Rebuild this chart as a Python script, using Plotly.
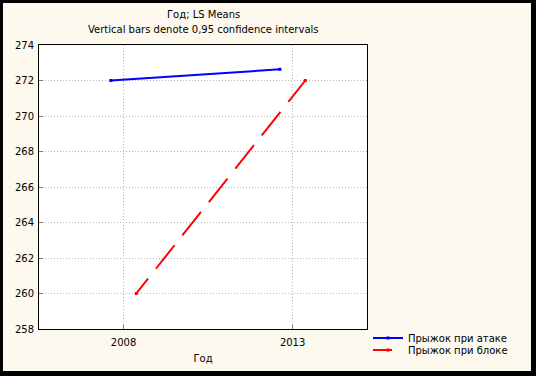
import plotly.graph_objects as go

# ---- data ----
years = ["2008", "2013"]
attack_jump = [272.0, 272.63]   # Прыжок при атаке
block_jump = [260.0, 272.0]     # Прыжок при блоке
series_names = ["Прыжок при атаке", "Прыжок при блоке"]
y_ticks = [258, 260, 262, 264, 266, 268, 270, 272, 274]

W, H = 536, 376
L, R, T, B = 39, 169, 45, 47
PW, PH = W - L - R, H - T - B
FONT = "DejaVu Sans"
BG = "#FDF9EE"

idx = list(range(len(years)))
off = 0.075

fig = go.Figure()
fig.add_trace(go.Scatter(
    x=[i - off for i in idx], y=attack_jump, name=series_names[0],
    mode="lines+markers",
    line=dict(color="#0000FF", width=2),
    marker=dict(symbol="square", size=3, color="#0000FF"),
    legend="legend",
))
fig.add_trace(go.Scatter(
    x=[i + off for i in idx], y=block_jump, name=series_names[1],
    mode="lines+markers",
    line=dict(color="#FF0000", width=2,
              dash="19px,12.6px,30px,12.6px,30px,12.6px,30px,12.6px,30px,12.6px,30px,12.6px,30px"),
    marker=dict(symbol="square", size=3, color="#FF0000"),
    legend="legend2",
))

axis_common = dict(
    showline=True, linecolor="black", linewidth=1, mirror=True,
    showgrid=True, gridcolor="#B8B8B8", griddash="1px,2px", gridwidth=1,
    ticks="inside", ticklen=4, tickcolor="#808080",
    tickfont=dict(family=FONT, size=10, color="black"),
    zeroline=False,
)

LEG_X = 368

fig.update_layout(
    width=W, height=H,
    margin=dict(l=L, r=R, t=T, b=B, pad=0),
    paper_bgcolor=BG, plot_bgcolor="white",
    font=dict(family=FONT, size=10, color="black"),
    xaxis=dict(
        axis_common, range=[-0.5, 1.44], tickvals=idx, ticktext=years,
        ticklabelstandoff=4,
        title=dict(text="Год", font=dict(family=FONT, size=10), standoff=7),
    ),
    yaxis=dict(
        axis_common, range=[258, 274], tickvals=y_ticks,
        ticklabelstandoff=2,
    ),
    legend=dict(
        x=(LEG_X - L) / PW, xanchor="left", y=-(338 - (T + PH)) / PH, yanchor="middle",
        bgcolor="rgba(0,0,0,0)", font=dict(family=FONT, size=10),
        itemwidth=30, tracegroupgap=0,
    ),
    legend2=dict(
        x=(LEG_X - L) / PW, xanchor="left", y=-(350 - (T + PH)) / PH, yanchor="middle",
        bgcolor="rgba(0,0,0,0)", font=dict(family=FONT, size=10),
        itemwidth=30, tracegroupgap=0,
    ),
    showlegend=True,
)

fig.add_annotation(text="Год; LS Means", xref="paper", yref="paper",
                   x=0.5, y=1 + (T - 15) / PH, yanchor="middle", showarrow=False,
                   font=dict(family=FONT, size=10))
fig.add_annotation(text="Vertical bars denote 0,95 confidence intervals", xref="paper", yref="paper",
                   x=0.5, y=1 + (T - 30) / PH, yanchor="middle", showarrow=False,
                   font=dict(family=FONT, size=10))

# outer frame (left/top thin, right/bottom thicker)
def px_x(p):
    return (p - L) / PW

def px_y(p):
    return 1 - (p - T) / PH

for x0, y0, x1, y1 in [(0, 0, 3, H), (0, 0, W, 3), (W - 5, 0, W, H), (0, H - 5, W, H)]:
    fig.add_shape(type="rect", xref="paper", yref="paper",
                  x0=px_x(x0), x1=px_x(x1), y0=px_y(y1), y1=px_y(y0),
                  fillcolor="black", line=dict(width=0), layer="above")

fig.write_html("out.html",
               config={"displayModeBar": False},
               post_script="document.body.style.margin='0';document.body.style.overflow='hidden';")
